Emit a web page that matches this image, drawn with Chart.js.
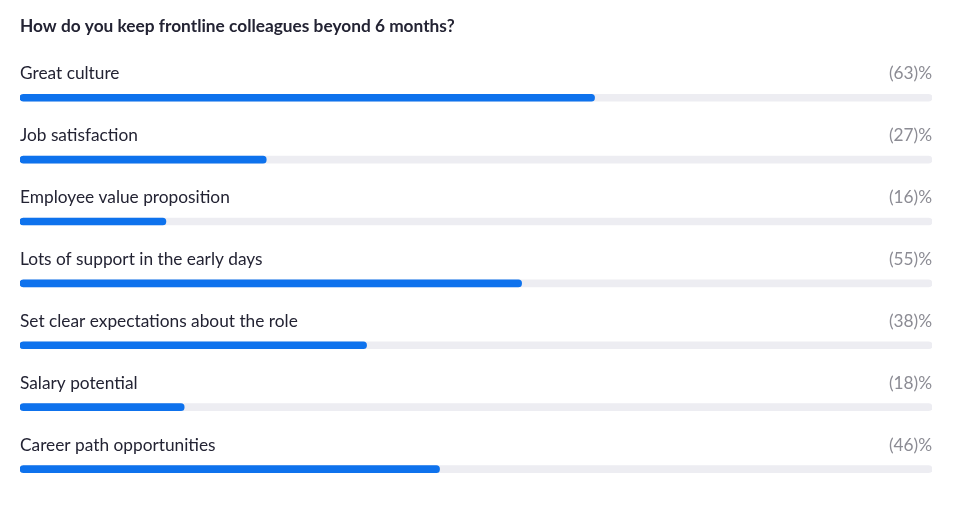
<!DOCTYPE html>
<html>
<head>
<meta charset="utf-8">
<script src="https://cdn.jsdelivr.net/npm/chart.js@4"></script>
<style>
  html, body { margin: 0; padding: 0; background: #fff; }
  #wrap { width: 954px; height: 514px; }
</style>
</head>
<body>
<div id="wrap"><canvas id="myChart"></canvas></div>
<script>
const titulo = "How do you keep frontline colleagues beyond 6 months?";
const opciones = [
  "Great culture",
  "Job satisfaction",
  "Employee value proposition",
  "Lots of support in the early days",
  "Set clear expectations about the role",
  "Salary potential",
  "Career path opportunities"
];
const porcentajes = [63, 27, 16, 55, 38, 18, 46];
const total = opciones.map(() => 100);

const azul = "#0e72ed";
const gris = "#ededf2";

// labels above each bar and the (xx)% on the right
const textosPlugin = {
  id: "textos",
  afterDatasetsDraw(chart) {
    const { ctx, chartArea, scales } = chart;
    ctx.save();
    ctx.font = "17.3px Lato";
    ctx.textBaseline = "middle";
    opciones.forEach((op, i) => {
      const y = scales.y.getPixelForValue(i) - 24;
      ctx.fillStyle = "#232333";
      ctx.textAlign = "left";
      ctx.fillText(op, chartArea.left, y);
      ctx.fillStyle = "#8c8c94";
      ctx.textAlign = "right";
      ctx.fillText("(" + porcentajes[i] + ")%", chartArea.right, y);
    });
    ctx.restore();
  }
};

new Chart(document.getElementById("myChart"), {
  type: "bar",
  data: {
    labels: opciones,
    datasets: [
      {
        data: porcentajes,
        backgroundColor: azul,
        barThickness: 7,
        borderRadius: 4,
        borderSkipped: false,
        grouped: false,
        order: 0
      },
      {
        data: total,
        backgroundColor: gris,
        barThickness: 7,
        borderRadius: 4,
        borderSkipped: false,
        grouped: false,
        order: 1
      }
    ]
  },
  options: {
    indexAxis: "y",
    responsive: true,
    maintainAspectRatio: false,
    animation: false,
    layout: { padding: { left: 20, right: 22, top: 0, bottom: 14 } },
    scales: {
      x: { display: false, min: 0, max: 100 },
      y: { display: false }
    },
    plugins: {
      legend: { display: false },
      tooltip: { enabled: false },
      title: {
        display: true,
        text: titulo,
        align: "start",
        color: "#232333",
        font: { family: "Lato", size: 17.3, weight: "bold" },
        padding: { top: 16, bottom: 30 }
      }
    }
  },
  plugins: [textosPlugin]
});
</script>
</body>
</html>
